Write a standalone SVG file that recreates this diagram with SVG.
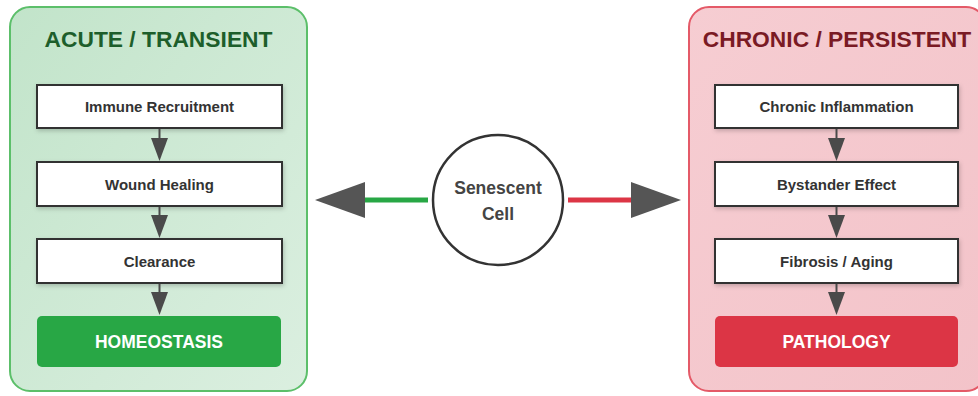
<svg xmlns="http://www.w3.org/2000/svg" width="978" height="396" viewBox="0 0 978 396">
  <defs>
    <linearGradient id="gGreen" x1="0" y1="0" x2="1" y2="1">
      <stop offset="0" stop-color="#c2e4ca"/>
      <stop offset="1" stop-color="#dbefe0"/>
    </linearGradient>
    <linearGradient id="gRed" x1="0" y1="0" x2="1" y2="1">
      <stop offset="0" stop-color="#f6cdd2"/>
      <stop offset="1" stop-color="#f3c3c9"/>
    </linearGradient>
    <filter id="sh" x="-10%" y="-20%" width="130%" height="160%">
      <feDropShadow dx="1" dy="2" stdDeviation="2" flood-color="#000" flood-opacity="0.2"/>
    </filter>
    <marker id="ah" viewBox="0 0 23 17" refX="0" refY="8.5" markerWidth="23" markerHeight="17" markerUnits="userSpaceOnUse" orient="auto">
      <path d="M0,0 L23,8.5 L0,17 Z" fill="#4a4a4a"/>
    </marker>
    <marker id="bigah" viewBox="0 0 50 36" refX="0" refY="18" markerWidth="50" markerHeight="36" markerUnits="userSpaceOnUse" orient="auto">
      <path d="M0,0 L50,18 L0,36 Z" fill="#555"/>
    </marker>
  </defs>
  <style>
    .panelG { fill: url(#gGreen); stroke: #5cbf6a; stroke-width: 2; }
    .panelR { fill: url(#gRed); stroke: #e45a68; stroke-width: 2; }
    .box { fill: #fff; stroke: #333; stroke-width: 2; filter: url(#sh); }
    .boxt { font-family: "Liberation Sans", Arial, sans-serif; font-weight: bold; font-size: 15px; fill: #333; text-anchor: middle; }
    .title { font-family: "Liberation Sans", Arial, sans-serif; font-weight: bold; font-size: 22.8px; text-anchor: middle; }
    .outc { font-family: "Liberation Sans", Arial, sans-serif; font-weight: bold; font-size: 17.5px; fill: #fff; text-anchor: middle; }
    .vline { stroke: #4a4a4a; stroke-width: 2; fill: none; marker-end: url(#ah); }
    .celltext { font-family: "Liberation Sans", Arial, sans-serif; font-weight: bold; font-size: 17.5px; fill: #444; text-anchor: middle; }
  </style>

  <g id="panel-acute">
    <rect class="panelG" x="10" y="7" width="297" height="384" rx="20" ry="20"/>
    <text class="title" x="158.5" y="47" fill="#1d5e2b">ACUTE / TRANSIENT</text>
  </g>
  <g id="panel-chronic">
    <rect class="panelR" x="689" y="7" width="297" height="384" rx="20" ry="20"/>
    <text class="title" x="837" y="47" fill="#7a1a24">CHRONIC / PERSISTENT</text>
  </g>

  <g id="immune-recruitment">
    <rect class="box" x="37" y="85" width="245" height="43"/>
    <text class="boxt" x="159.5" y="112">Immune Recruitment</text>
  </g>
  <g id="wound-healing">
    <rect class="box" x="37" y="162" width="245" height="44"/>
    <text class="boxt" x="159.5" y="189.5">Wound Healing</text>
  </g>
  <g id="clearance">
    <rect class="box" x="37" y="239" width="245" height="44"/>
    <text class="boxt" x="159.5" y="266.5">Clearance</text>
  </g>
  <g id="homeostasis">
    <rect x="37" y="316" width="244" height="51" rx="5" ry="5" fill="#28a745"/>
    <text class="outc" x="159" y="348">HOMEOSTASIS</text>
  </g>

  <g id="chronic-inflammation">
    <rect class="box" x="715" y="85" width="243" height="43"/>
    <text class="boxt" x="836.5" y="112">Chronic Inflammation</text>
  </g>
  <g id="bystander-effect">
    <rect class="box" x="715" y="162" width="243" height="44"/>
    <text class="boxt" x="836.5" y="189.5">Bystander Effect</text>
  </g>
  <g id="fibrosis-aging">
    <rect class="box" x="715" y="239" width="243" height="44"/>
    <text class="boxt" x="836.5" y="266.5">Fibrosis / Aging</text>
  </g>
  <g id="pathology">
    <rect x="715" y="316" width="243" height="51" rx="5" ry="5" fill="#dc3545"/>
    <text class="outc" x="836.5" y="348">PATHOLOGY</text>
  </g>

  <g id="senescent-cell">
    <circle cx="498" cy="200" r="65" fill="#fff" stroke="#333" stroke-width="2.5"/>
    <text class="celltext" x="498" y="194">Senescent</text>
    <text class="celltext" x="498" y="220">Cell</text>
  </g>

  <g id="connectors">
    <line class="vline" x1="159.5" y1="129" x2="159.5" y2="138"/>
    <line class="vline" x1="159.5" y1="207" x2="159.5" y2="215"/>
    <line class="vline" x1="159.5" y1="284" x2="159.5" y2="292"/>
    <line class="vline" x1="836.5" y1="129" x2="836.5" y2="138"/>
    <line class="vline" x1="836.5" y1="207" x2="836.5" y2="215"/>
    <line class="vline" x1="836.5" y1="284" x2="836.5" y2="292"/>
    <line x1="428" y1="200" x2="365" y2="200" stroke="#28a745" stroke-width="5" marker-end="url(#bigah)"/>
    <line x1="568" y1="200" x2="631" y2="200" stroke="#dc3545" stroke-width="5" marker-end="url(#bigah)"/>
  </g>
</svg>
